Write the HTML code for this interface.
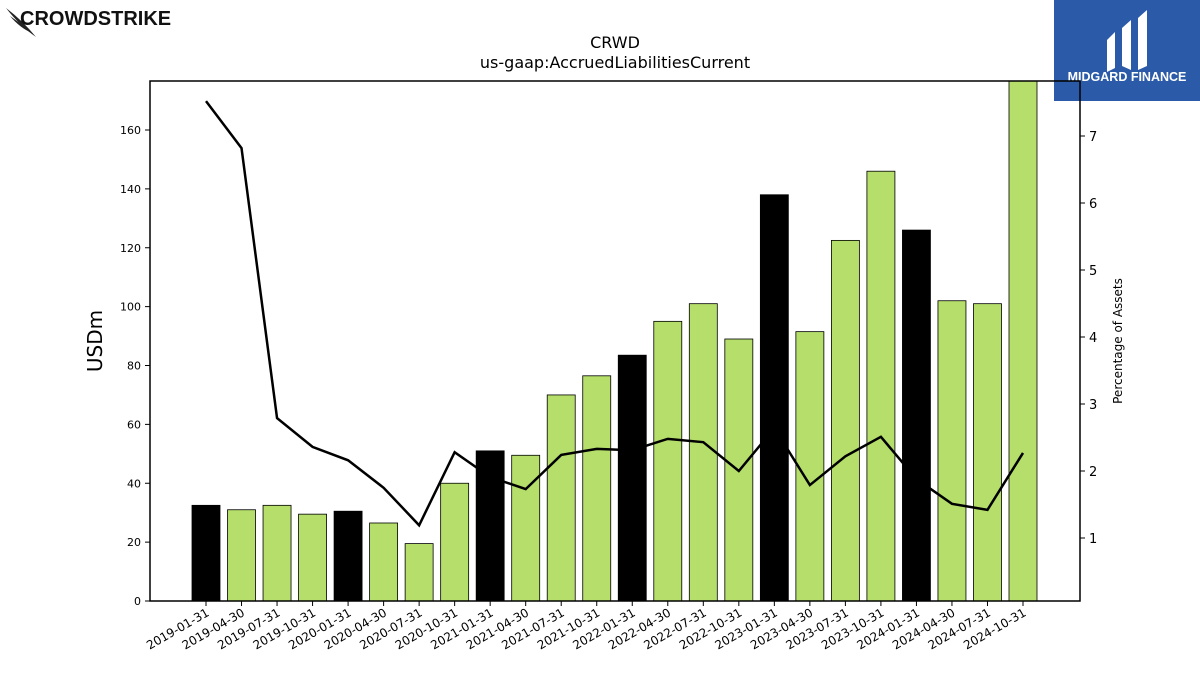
<!DOCTYPE html>
<html><head><meta charset="utf-8"><style>
body{margin:0;background:#fff;font-family:"DejaVu Sans","Liberation Sans",sans-serif;}
svg{display:block}
</style></head><body>
<svg id="chart" width="1200" height="675">
<g>
<path d="M6 8 Q22 20 36 37 Q20 26 6 8Z" fill="#222"/>
<path d="M10 16 Q24 26 32 33 Q20 28 10 16Z" fill="#222"/>
<text x="20" y="25" font-family="Liberation Sans" font-weight="bold" font-size="20" fill="#111">CROWDSTRIKE</text>
</g>
<g>
<rect x="1054" y="0" width="146" height="101" fill="#2b5aa8"/>
<path d="M1107 40 L1115 32 L1115 68 L1107 72Z M1122 28 L1131 20 L1131 70 L1122 66Z M1138 18 L1147 10 L1147 66 L1138 70Z" fill="#fff"/>
<text x="1127" y="81" text-anchor="middle" font-family="Liberation Sans" font-weight="bold" font-size="12.5" fill="#fff">MIDGARD FINANCE</text>
</g>
<text x="615" y="48" text-anchor="middle" font-size="16">CRWD</text>
<text x="615" y="68" text-anchor="middle" font-size="16">us-gaap:AccruedLiabilitiesCurrent</text>
<g id="plot"></g>
<text transform="translate(102,341) rotate(-90)" text-anchor="middle" font-size="20">USDm</text>
<text transform="translate(1122,341) rotate(-90)" text-anchor="middle" font-size="12">Percentage of Assets</text>
</svg>
<script>
const categories=["2019-01-31","2019-04-30","2019-07-31","2019-10-31","2020-01-31","2020-04-30","2020-07-31","2020-10-31","2021-01-31","2021-04-30","2021-07-31","2021-10-31","2022-01-31","2022-04-30","2022-07-31","2022-10-31","2023-01-31","2023-04-30","2023-07-31","2023-10-31","2024-01-31","2024-04-30","2024-07-31","2024-10-31"];
const barValues=[32.5,31,32.5,29.5,30.5,26.5,19.5,40,51,49.5,70,76.5,83.5,95,101,89,138,91.5,122.5,146,126,102,101,177];
const pctValues=[7.52,6.82,2.79,2.36,2.16,1.75,1.19,2.28,1.91,1.73,2.24,2.33,2.31,2.48,2.43,2.0,2.64,1.79,2.22,2.51,1.88,1.51,1.42,2.27];
const leftTicks=[0,20,40,60,80,100,120,140,160];
const rightTicks=[1,2,3,4,5,6,7];
const NS="http://www.w3.org/2000/svg";
const L=150,R=1080,T=81,B=601;
const x=i=>206+i*(1023-206)/(categories.length-1);
const y=v=>B-v*(471/160);
const y2=v=>605-v*67;
const g=document.getElementById('plot');
function mk(t,a,p){const e=document.createElementNS(NS,t);for(const k in a)e.setAttribute(k,a[k]);(p||g).appendChild(e);return e;}
const clip=mk('clipPath',{id:'pc'});mk('rect',{x:L,y:T,width:R-L,height:B-T},clip);
barValues.forEach((v,i)=>{
 const r=mk('rect',{x:x(i)-14,y:y(v),width:28,height:B-y(v),fill:categories[i].slice(5,7)==='01'?'#000':'#b5de6b',stroke:'#000','stroke-width':0.8,'clip-path':'url(#pc)'});
 
 
});
const ln=mk('polyline',{points:pctValues.map((v,i)=>x(i)+','+y2(v)).join(' '),fill:'none',stroke:'#000','stroke-width':2.5,'clip-path':'url(#pc)'});


const fr=mk('rect',{x:L,y:T,width:R-L,height:B-T,fill:'none',stroke:'#000','stroke-width':1.5});


leftTicks.forEach(v=>{
 mk('line',{x1:L-5,x2:L,y1:y(v),y2:y(v),stroke:'#000'});
 const t=mk('text',{x:L-9,y:y(v)+4,'text-anchor':'end','font-size':11});t.textContent=v;
 
 
});
rightTicks.forEach(v=>{
 mk('line',{x1:R,x2:R+5,y1:y2(v),y2:y2(v),stroke:'#000'});
 const t=mk('text',{x:R+9,y:y2(v)+5,'font-size':13});t.textContent=v;
 
 
});
categories.forEach((c,i)=>{
 mk('line',{x1:x(i),x2:x(i),y1:B,y2:B+5,stroke:'#000'});
 const t=mk('text',{transform:`translate(${x(i)+4},${B+14}) rotate(-30)`,'text-anchor':'end','font-size':12});t.textContent=c;
 
 
});
</script>
</body></html>
